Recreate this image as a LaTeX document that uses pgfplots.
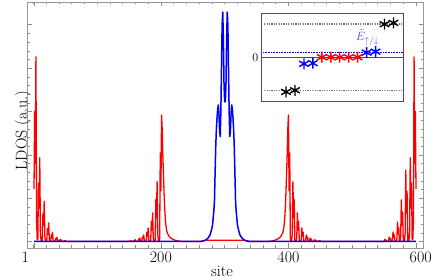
\documentclass[border=0pt]{standalone}
\usepackage{pgfplots}
\pgfplotsset{compat=1.18}
\definecolor{Eblue}{rgb}{0.3,0.3,1}
\begin{document}
\begin{tikzpicture}
\useasboundingbox (-27pt,-32pt) rectangle (409pt,248pt);
\begin{axis}[
  at={(0pt,0pt)}, anchor=south west,
  scale only axis, width=396pt, height=246pt,
  xmin=-10, xmax=611, ymin=-0.15, ymax=5.525,
  axis line style={draw=black!40, line width=0.6pt},
  tick style={draw=black!45, line width=0.5pt},
  major tick length=4.5pt, minor tick length=2.5pt,
  xtick={1,200,400,600},
  xticklabels={{\makebox[0pt][r]{1\hspace{5pt}}},200,400,{\makebox[0pt][l]{\hspace{-6.3pt}600}}},
  minor xtick={0,20,...,600},
  ytick={0,1,...,5}, yticklabels={}, minor y tick num=4,
  tick label style={font=\fontsize{16}{19}\selectfont, text=black},
  xticklabel style={inner sep=3.7pt},
  label style={font=\fontsize{16}{19}\selectfont},
  xlabel={site}, ylabel={LDOS (a.u.)},
  xlabel style={at={(axis description cs:0.4924,0)}, anchor=base, yshift=-28.7pt},
  ylabel style={at={(axis description cs:0,0.537)}, anchor=base, xshift=-14.5pt},
]
\addplot[red, line width=1.3pt, line join=round] table {
1 1.21
2 3.0
3 1.8
4 4.26
5 0.5
6 0.04
7 0.04
8 1.35
9 0.77
10 1.93
11 0.23
12 0.02
13 0.0
14 0.02
15 0.65
16 0.37
17 0.93
18 0.11
19 0.01
20 0.0
21 0.01
22 0.30
23 0.17
24 0.43
25 0.05
26 0.0
27 0.0
28 0.15
29 0.08
30 0.21
31 0.025
32 0
34 0
35 0.07
36 0.04
37 0.10
38 0.012
39 0
40 0
41 0.035
42 0.02
43 0.05
44 0.006
45 0
47 0
48 0.018
49 0.01
50 0.025
51 0.003
52 0
150 0
151 0.014
152 0.008
153 0.02
154 0.002
155 0
157 0.001
158 0.028
159 0.016
160 0.04
161 0.005
162 0
164 0.002
165 0.056
166 0.032
167 0.08
168 0.01
169 0.001
170 0.003
171 0.105
172 0.06
173 0.15
174 0.018
175 0.0015
176 0
177 0.006
178 0.217
179 0.124
180 0.31
181 0.037
182 0.003
183 0
184 0.013
185 0.46
186 0.26
187 0.66
188 0.08
189 0.007
190 0
191 0.028
192 0.97
193 0.55
194 1.38
195 0.17
196 0.014
197 0
198 0.06
199 2.04
200 1.17
201 2.92
202 2.6
203 2.0
204 1.55
205 1.1
206 0.75
207 0.5
208 0.36
209 0.25
210 0.2
212 0.14
214 0.1
216 0.075
219 0.05
222 0.03
226 0.015
230 0.005
234 0
262 0
266 0.02
270 0.03
331 0.03
335 0.02
339 0
367 0
371 0.005
375 0.015
379 0.03
382 0.05
385 0.075
387 0.1
389 0.14
391 0.2
392 0.25
393 0.36
394 0.5
395 0.75
396 1.1
397 1.55
398 2.0
399 2.6
400 2.92
401 1.17
402 2.04
403 0.06
404 0
405 0.014
406 0.17
407 1.38
408 0.55
409 0.97
410 0.028
411 0
412 0.007
413 0.08
414 0.66
415 0.26
416 0.46
417 0.013
418 0
419 0.003
420 0.037
421 0.31
422 0.124
423 0.217
424 0.006
425 0
426 0.0015
427 0.018
428 0.15
429 0.06
430 0.105
431 0.003
432 0.001
433 0.01
434 0.08
435 0.032
436 0.056
437 0.002
439 0
440 0.005
441 0.04
442 0.016
443 0.028
444 0.001
446 0
447 0.002
448 0.02
449 0.008
450 0.014
451 0
549 0
550 0.006
551 0.05
552 0.02
553 0.035
554 0.001
556 0.001
557 0.012
558 0.1
559 0.04
560 0.07
561 0.002
562 0.002
563 0.026
564 0.22
565 0.088
566 0.154
567 0.004
568 0
569 0.005
570 0.054
571 0.45
572 0.18
573 0.315
574 0.009
575 0.01
576 0.115
577 0.96
578 0.384
579 0.672
580 0.019
581 0
582 0.017
583 0.2
584 1.65
585 0.66
586 1.155
587 0.033
588 0
589 0.02
590 0.23
591 1.93
592 0.77
593 1.35
594 0.04
595 0.04
596 0.5
597 4.26
598 1.8
599 3.0
600 1.21
};
\addplot[blue, line width=1.5pt, line join=round] table {
1 0
262 0
266 0.01
270 0.03
274 0.08
277 0.15
279 0.25
281 0.38
282 0.55
283 0.7
284 0.95
285 1.6
286 2.2
287 2.6
288 2.85
289 3.05
290 3.15
291 2.95
292 2.55
293 2.42
294 3.0
295 4.0
296 5.0
297 5.29
298 4.6
299 3.6
300 3.22
301 3.22
302 3.6
303 4.6
304 5.29
305 5.0
306 4.0
307 3.0
308 2.42
309 2.55
310 2.95
311 3.15
312 3.05
313 2.85
314 2.6
315 2.2
316 1.6
317 0.95
318 0.7
319 0.55
320 0.38
322 0.25
324 0.15
327 0.08
331 0.03
335 0.01
339 0
600 0
};
\end{axis}
\begin{axis}[
  at={(234.7pt,146.5pt)}, anchor=south west,
  scale only axis, width=141.6pt, height=88.2pt,
  xmin=-1.72, xmax=14.1, ymin=-1.34, ymax=1.33,
  xtick=\empty, ytick={0}, major tick length=0pt,
  yticklabel style={font=\fontsize{12}{14}\selectfont},
  axis line style={draw=black!70, line width=0.8pt},
  axis background/.style={fill=white},
]
\addplot[black!70, line width=0.8pt] coordinates {(-3,0) (16,0)};
\addplot[black!55, line width=1.4pt, dash pattern=on 1.2pt off 1.2pt] coordinates {(-1.45,1) (13.9,1)};
\addplot[black!55, line width=1.4pt, dash pattern=on 1.2pt off 1.2pt] coordinates {(-1.45,-1) (13.9,-1)};
\addplot[blue, line width=0.6pt, densely dotted] coordinates {(-3,0.15) (16,0.15)};
\addplot[only marks, mark=asterisk, mark size=5.5pt, black, mark options={line width=1.4pt}] coordinates {(1,-1.05) (2,-1.0) (12,1.0) (13,1.04)};
\addplot[only marks, mark=asterisk, mark size=5.5pt, blue, mark options={line width=1.4pt}] coordinates {(3,-0.2) (4,-0.18) (10,0.14) (11,0.17)};
\addplot[only marks, mark=asterisk, mark size=5.5pt, red, mark options={line width=1.4pt}] coordinates {(5,0) (6,0) (7,0) (8,0) (9,0)};
\node[text=Eblue, font=\fontsize{13}{15}\selectfont] at (axis cs:10.1,0.6) {$\tilde{E}_{\uparrow/\downarrow}$};
\end{axis}
\end{tikzpicture}
\end{document}
